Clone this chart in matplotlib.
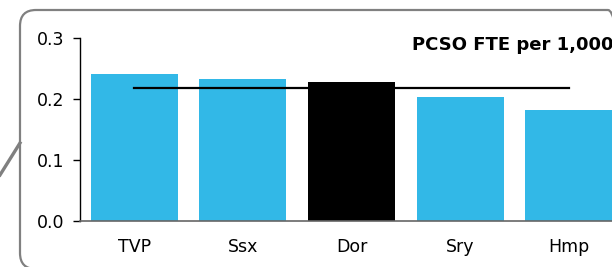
import matplotlib.pyplot as plt
import matplotlib.patches as mpatches
from matplotlib.lines import Line2D

plt.rcParams['font.family'] = ['DejaVu Sans']

forces = ['TVP', 'Ssx', 'Dor', 'Sry', 'Hmp']
fte_per_1000 = [0.241, 0.233, 0.228, 0.203, 0.182]
group_average = 0.218
highlight = 'Dor'

cyan = '#32B8E7'
bar_colors = ['#000000' if f == highlight else cyan for f in forces]

fig = plt.figure(figsize=(6.12, 2.67), dpi=100)
ax = fig.add_axes([80/612, 46/267, 543/612, 183/267])

x = list(range(len(forces)))
ax.bar(x, fte_per_1000, width=0.8, color=bar_colors, zorder=2)
ax.plot([x[0], x[-1]], [group_average, group_average], color='black', lw=1.6, zorder=3)

ax.set_xlim(-0.5, 4.5)
ax.set_ylim(0, 0.3)
ax.set_yticks([0.0, 0.1, 0.2, 0.3])
ax.set_yticklabels(['0.0', '0.1', '0.2', '0.3'])
ax.set_xticks(x)
ax.set_xticklabels(forces)
ax.tick_params(axis='y', length=5, width=1, pad=6, labelsize=12.5)
ax.tick_params(axis='x', length=0, pad=12, labelsize=12.5)
ax.spines['top'].set_visible(False)
ax.spines['right'].set_visible(False)
ax.spines['left'].set_linewidth(1)
ax.spines['bottom'].set_color('#666666')
ax.spines['bottom'].set_linewidth(1.2)

fig.text(412/612, 1 - 45/267, 'PCSO FTE per 1,000', fontsize=13, fontweight='bold',
         ha='left', va='center')

# rounded callout frame and pointer
frame = mpatches.FancyBboxPatch((20, -2), 604, 259,
                                boxstyle='round,pad=0,rounding_size=16',
                                transform=None, fill=False, edgecolor='#808080', lw=1.6)
fig.add_artist(frame)
fig.add_artist(Line2D([0, 20], [92, 124], transform=None, color='#808080', lw=2.4))

fig.savefig('out.png', dpi=100)
